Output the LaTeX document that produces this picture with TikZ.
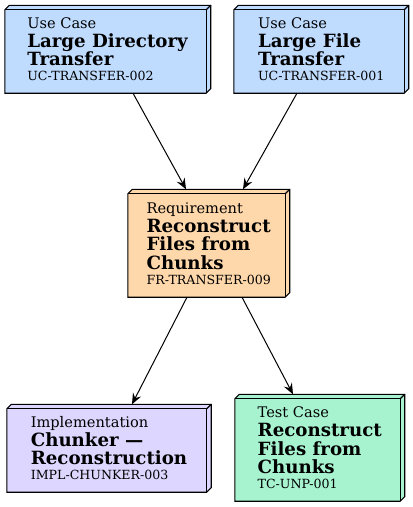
\documentclass[tikz,border=0pt]{standalone}
\usepackage{fontspec}
\setmainfont{DejaVu Serif}
\usetikzlibrary{arrows.meta,backgrounds}
\definecolor{ucblue}{HTML}{BFDBFE}
\definecolor{reqorange}{HTML}{FED7AA}
\definecolor{implviolet}{HTML}{DDD6FE}
\definecolor{tcgreen}{HTML}{A7F3D0}
\newcommand{\kindfont}{\fontsize{14.6}{18.5}\selectfont}
\newcommand{\idfont}{\fontsize{12.6}{18.5}\selectfont}
\newcommand{\boxthreed}[2]{%
  \filldraw[fill=#2, draw=black, line width=1.1pt, line join=miter]
    (#1.south west) -- ([yshift=-4.5pt]#1.north west) -- ([xshift=4.5pt]#1.north west)
    -- (#1.north east) -- ([yshift=4.5pt]#1.south east) -- ([xshift=-4.5pt]#1.south east) -- cycle;
  \draw[line width=1.1pt]
    ([yshift=-4.5pt]#1.north west) -- ([xshift=-4.5pt,yshift=-4.5pt]#1.north east)
    -- ([xshift=-4.5pt]#1.south east);
  \draw[line width=1.1pt]
    ([xshift=-4.5pt,yshift=-4.5pt]#1.north east) -- (#1.north east);
}
\tikzset{
  art/.style={inner sep=0pt, align=left, font=\fontsize{18.2}{18.5}\selectfont},
  edge/.style={line width=1pt, -{Stealth[length=11pt,width=9pt,inset=4pt]}}
}
\begin{document}
\begin{tikzpicture}[x=1pt,y=-1pt]
\useasboundingbox (0,0) rectangle (413,507);
\node[art, minimum width=205.5pt, minimum height=87.5pt] (n1) at (107.75,49.25)
  {{\kindfont Use Case}\\[0.5pt]\textbf{Large Directory}\\\textbf{Transfer}\\[-3.5pt]{\idfont UC-TRANSFER-002}};
\node[art, minimum width=174.5pt, minimum height=87.5pt] (n2) at (321.25,49.25)
  {{\kindfont Use Case}\\[0.5pt]\textbf{Large File}\\\textbf{Transfer}\\[-3.5pt]{\idfont UC-TRANSFER-001}};
\node[art, minimum width=161.5pt, minimum height=107.5pt] (n3) at (208.75,243.25)
  {{\kindfont Requirement}\\[0.5pt]\textbf{Reconstruct}\\\textbf{Files from}\\\textbf{Chunks}\\[-3.5pt]{\idfont FR-TRANSFER-009}};
\node[art, minimum width=204pt, minimum height=87.5pt] (n4) at (109,448.25)
  {{\kindfont Implementation}\\[0.5pt]\textbf{Chunker —}\\\textbf{Reconstruction}\\[-3.5pt]{\idfont IMPL-CHUNKER-003}};
\node[art, minimum width=169.5pt, minimum height=106.5pt] (n5) at (319.75,447.75)
  {{\kindfont Test Case}\\[0.5pt]\textbf{Reconstruct}\\\textbf{Files from}\\\textbf{Chunks}\\[-3.5pt]{\idfont TC-UNP-001}};
\begin{scope}[on background layer]
  \boxthreed{n1}{ucblue}
  \boxthreed{n2}{ucblue}
  \boxthreed{n3}{reqorange}
  \boxthreed{n4}{implviolet}
  \boxthreed{n5}{tcgreen}
\end{scope}
\draw[edge] ([xshift=25.25pt]n1.south) -- ([xshift=-22.75pt]n3.north);
\draw[edge] ([xshift=-24.25pt]n2.south) -- ([xshift=34.25pt]n3.north);
\draw[edge] ([xshift=-21.75pt]n3.south) -- ([xshift=23pt]n4.north);
\draw[edge] ([xshift=33.25pt]n3.south) -- ([xshift=-26.75pt]n5.north);
\end{tikzpicture}
\end{document}
